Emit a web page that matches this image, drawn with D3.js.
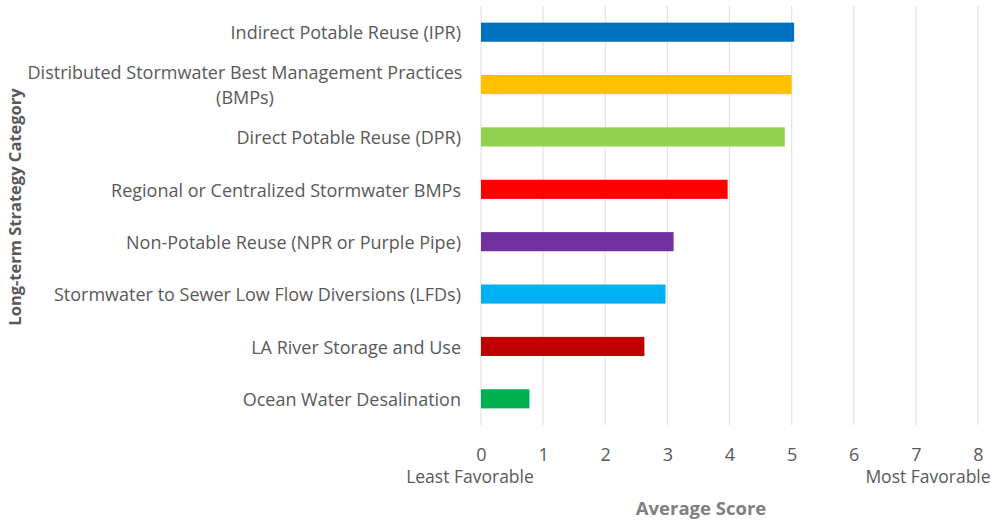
<!DOCTYPE html>
<html>
<head>
<meta charset="utf-8">
<script src="https://cdn.jsdelivr.net/npm/d3@7"></script>
<style>
  html, body { margin: 0; padding: 0; background: #fff; }
  svg { display: block; font-family: "Open Sans", "Noto Sans", sans-serif; }
</style>
</head>
<body>
<svg id="chart" width="991" height="520"></svg>
<script>
// Long-term strategy categories, top to bottom
const categories = [
  "Indirect Potable Reuse (IPR)",
  "Distributed Stormwater Best Management Practices (BMPs)",
  "Direct Potable Reuse (DPR)",
  "Regional or Centralized Stormwater BMPs",
  "Non-Potable Reuse (NPR or Purple Pipe)",
  "Stormwater to Sewer Low Flow Diversions (LFDs)",
  "LA River Storage and Use",
  "Ocean Water Desalination"
];
// Average score per category
const scores = [5.04, 5.0, 4.89, 3.97, 3.1, 2.97, 2.63, 0.78];
const barColors = ["#0070C0", "#FFC000", "#92D050", "#FF0000", "#7030A0", "#00B0F0", "#C00000", "#00B050"];
const tickValues = [0, 1, 2, 3, 4, 5, 6, 7, 8];
// Two-line wrapping for long category names
const labelLines = {
  "Distributed Stormwater Best Management Practices (BMPs)": ["Distributed Stormwater Best Management Practices", "(BMPs)"]
};

const svg = d3.select("#chart");
const plot = { left: 481, right: 978, top: 6, bottom: 425 };

const x = d3.scaleLinear().domain([0, 8]).range([plot.left, plot.right]);
const y = d3.scaleBand().domain(categories).range([plot.top, plot.bottom]).paddingInner(0.635).paddingOuter(0.3175);

// Vertical gridlines
svg.append("g")
  .selectAll("line")
  .data(tickValues)
  .join("line")
  .attr("x1", d => x(d)).attr("x2", d => x(d))
  .attr("y1", plot.top).attr("y2", plot.bottom)
  .attr("stroke", "#e3e3e3")
  .attr("stroke-width", 1.2);

// Bars
svg.append("g")
  .selectAll("rect")
  .data(categories)
  .join("rect")
  .attr("x", x(0))
  .attr("y", d => y(d))
  .attr("width", (d, i) => x(scores[i]) - x(0))
  .attr("height", y.bandwidth())
  .attr("fill", (d, i) => barColors[i]);

// Category labels
const labelG = svg.append("g")
  .attr("font-size", 18)
  .attr("fill", "#595959");
categories.forEach(c => {
  const lines = labelLines[c] || [c];
  const cy = y(c) + y.bandwidth() / 2 + 1;
  const lh = 25;
  const tx = lines.length > 1 ? 245 : 461;
  const t = labelG.append("text")
    .attr("text-anchor", lines.length > 1 ? "middle" : "end")
    .attr("x", tx)
    .attr("y", cy - (lines.length - 1) * lh / 2);
  lines.forEach((ln, i) => {
    t.append("tspan")
      .attr("x", tx)
      .attr("dy", i === 0 ? "0.35em" : lh)
      .text(ln);
  });
});

// X axis tick labels
svg.append("g")
  .attr("transform", `translate(0,${plot.bottom})`)
  .call(d3.axisBottom(x).tickValues(tickValues).tickSize(0).tickPadding(23).tickFormat(d3.format("d")))
  .call(g => g.select(".domain").remove())
  .call(g => g.selectAll("text")
    .attr("font-size", 18)
    .attr("font-family", "\"Open Sans\", sans-serif")
    .attr("fill", "#595959"));

// Scale end annotations
svg.append("text")
  .attr("x", 470).attr("y", 483)
  .attr("text-anchor", "middle")
  .attr("font-size", 17.5)
  .attr("fill", "#595959")
  .text("Least Favorable");
svg.append("text")
  .attr("x", 928).attr("y", 483)
  .attr("text-anchor", "middle")
  .attr("font-size", 17.5)
  .attr("fill", "#595959")
  .text("Most Favorable");

// Axis titles
svg.append("text")
  .attr("x", 701).attr("y", 515)
  .attr("text-anchor", "middle")
  .attr("font-size", 18.5)
  .attr("font-weight", "bold")
  .attr("fill", "#808080")
  .text("Average Score");
svg.append("text")
  .attr("transform", "translate(21,207) rotate(-90)")
  .attr("text-anchor", "middle")
  .attr("font-size", 16.5)
  .attr("font-weight", "bold")
  .attr("fill", "#595959")
  .text("Long-term Strategy Category");
</script>
</body>
</html>
